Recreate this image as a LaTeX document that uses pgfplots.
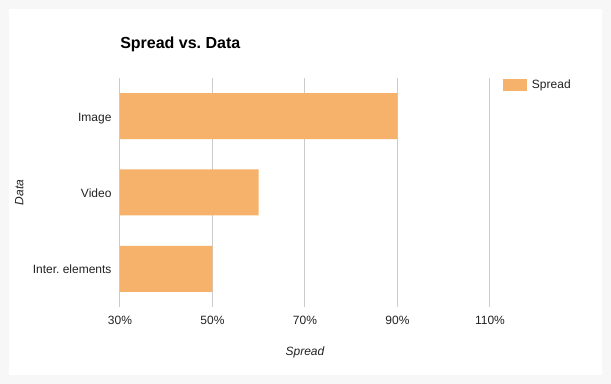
\documentclass[border=0pt]{standalone}
\usepackage{pgfplots}
\pgfplotsset{compat=1.18}
\usepackage{fontspec}
\setmainfont{Liberation Sans}
\definecolor{barc}{HTML}{F6B26B}
\definecolor{gridc}{HTML}{CCCCCC}
\definecolor{txt}{HTML}{222222}
\definecolor{outerbg}{HTML}{F7F7F7}
\frenchspacing
\begin{document}
\begin{tikzpicture}
\fill[outerbg] (0pt,0pt) rectangle (458.25pt,288pt);
\fill[white] (6.45pt,6.75pt) rectangle (451.5pt,281.25pt);
\begin{axis}[
  at={(90pt,57.75pt)}, anchor=south west,
  scale only axis, width=277.5pt, height=171.75pt,
  xbar, bar width=34.5pt,
  xmin=30, xmax=110, ymin=-0.5, ymax=2.5, y dir=reverse,
  xtick={30,50,70,90,110},
  xticklabels={30\%,50\%,70\%,90\%,110\%},
  ytick={0,1,2},
  yticklabels={Image,Video,Inter.\ elements},
  major tick length=0pt,
  axis line style={draw=none},
  xmajorgrids, grid style={gridc, line width=0.75pt},
  ymajorgrids=false,
  /pgf/number format/assume math mode=true,
  ticklabel style={font=\fontsize{9pt}{10pt}\selectfont, text=txt},
  xticklabel style={anchor=base, inner sep=0pt, yshift=-13pt},
  yticklabel style={anchor=base east, inner sep=0pt, xshift=-6.2pt, yshift=-3.75pt},
  title={Spread vs.\ Data},
  title style={at={(0,1)}, anchor=base west, inner sep=0pt, yshift=15.75pt, font=\bfseries\fontsize{12pt}{14pt}\selectfont, text=black},
  xlabel={Spread},
  xlabel style={at={(0.5,0)}, anchor=base, inner sep=0pt, yshift=-36.75pt, font=\itshape\fontsize{9pt}{10pt}\selectfont, text=txt},
  ylabel={Data},
  ylabel style={at={(0,0.5)}, anchor=center, inner sep=0pt, yshift=75.5pt, font=\itshape\fontsize{9pt}{10pt}\selectfont, text=txt},
  legend style={at={(1,1)}, anchor=north west, xshift=9.75pt, yshift=-0.75pt, draw=none, fill=none, inner sep=0pt, outer sep=0pt,
    font=\fontsize{9pt}{10pt}\selectfont, text=txt, nodes={inner sep=0pt}, column sep=3.75pt},
  legend image code/.code={\fill[barc] (0pt,-4.5pt) rectangle (18pt,4.5pt);},
]
\addplot[fill=barc, draw=none] coordinates {(90,0) (60,1) (50,2)};
\addlegendentry{Spread}
\end{axis}
\end{tikzpicture}
\end{document}
